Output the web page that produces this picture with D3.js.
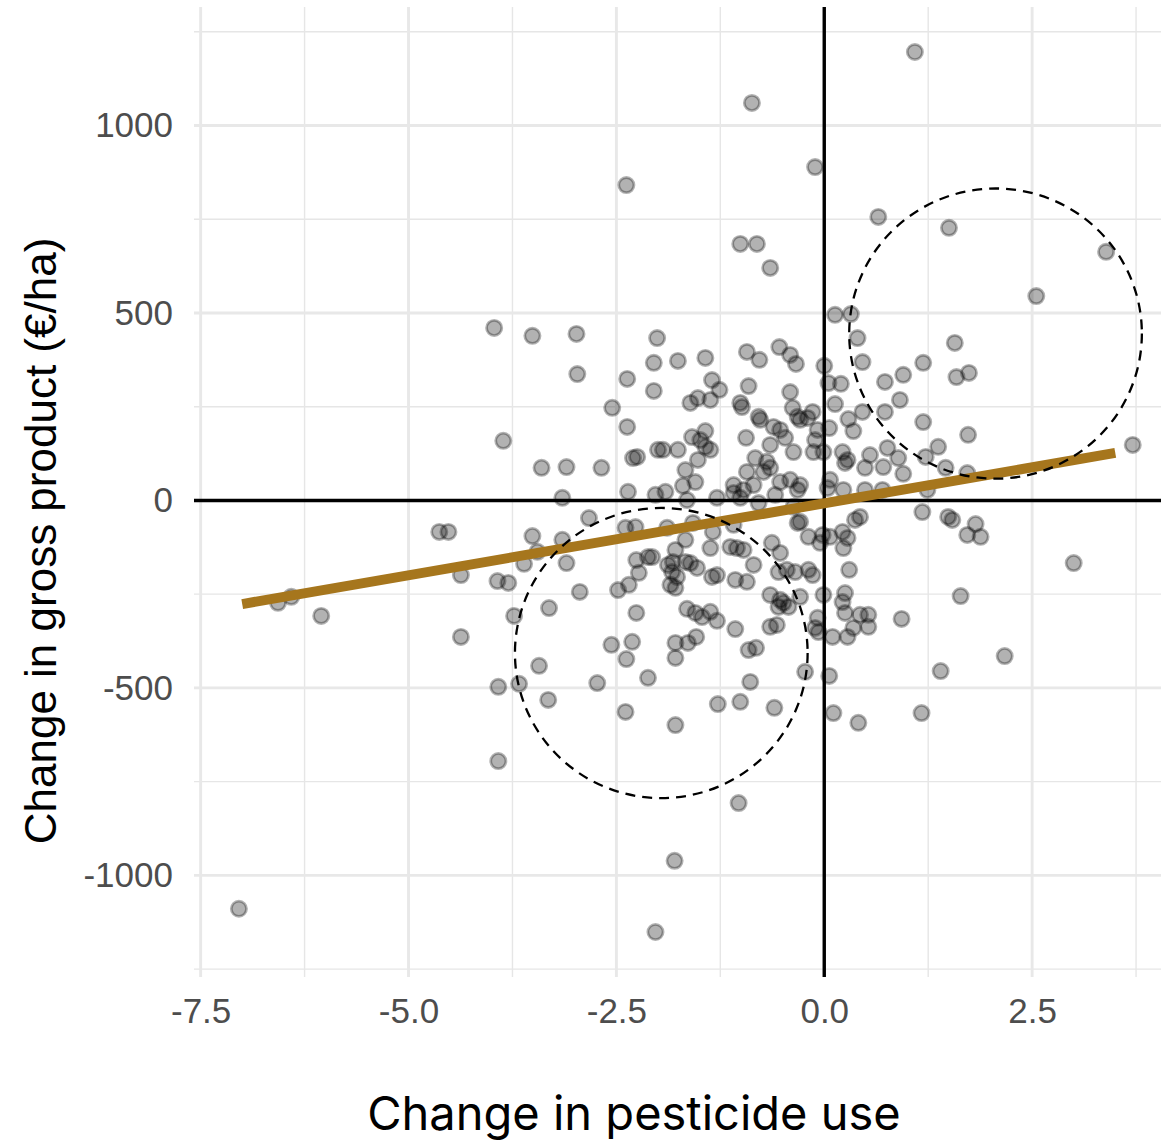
<!DOCTYPE html>
<html>
<head>
<meta charset="utf-8">
<script src="https://cdn.jsdelivr.net/npm/d3@7"></script>
<style>
  html, body { margin: 0; padding: 0; background: #ffffff; }
  svg { display: block; }
</style>
</head>
<body>
<svg id="chart" width="1161" height="1142"></svg>
<script>
// ---------------- data ----------------
const pesticideChange = [
  -7.04,-6.57,-6.41,-6.05,-4.63,-4.52,-4.37,-4.37,-3.97,-3.86,
  -3.93,-3.80,-3.92,-3.92,-3.73,-3.67,-3.51,-3.51,-3.45,-3.43,
  -3.40,-3.32,-3.31,-3.61,-3.10,-3.10,-3.15,-3.15,-2.98,-2.97,
  -2.83,-2.94,-2.73,-2.68,-2.56,-2.55,-2.48,-2.39,-2.38,-2.38,
  -2.37,-2.37,-2.36,-2.35,-2.31,-2.30,-2.25,-2.39,-2.27,-2.26,
  -2.23,-2.26,-2.12,-2.07,-2.12,-2.05,-2.05,-2.03,-2.01,-2.00,
  -1.94,-1.91,-1.89,-1.88,-1.83,-1.82,-1.77,-1.85,-1.79,-1.80,
  -2.03,-1.79,-1.79,-1.79,-1.79,-1.76,-1.76,-1.70,-1.67,-1.67,
  -1.67,-1.65,-1.65,-1.64,-1.61,-1.61,-1.59,-1.58,-1.55,-1.55,
  -1.54,-1.53,-1.52,-1.52,-1.49,-1.47,-1.43,-1.43,-1.43,-1.37,
  -1.37,-1.37,-1.37,-1.35,-1.35,-1.34,-1.29,-1.29,-1.28,-1.26,
  -1.29,-1.13,-1.09,-1.09,-1.09,-1.07,-1.07,-1.05,-1.03,-1.01,
  -1.01,-0.99,-1.01,-1.01,-0.97,-0.97,-0.94,-0.93,-0.93,-0.93,
  -0.91,-0.91,-0.89,-0.87,-0.85,-0.85,-0.83,-0.82,-0.81,-0.79,
  -0.77,-0.79,-0.78,-0.73,-0.69,-0.65,-0.65,-0.65,-0.65,-0.65,
  -0.63,-0.61,-0.60,-0.59,-0.57,-0.55,-0.55,-0.54,-0.53,-0.53,
  -0.53,-0.53,-0.49,-0.47,-0.45,-0.43,-0.41,-0.41,-0.41,-0.38,
  -0.37,-0.37,-0.35,-0.34,-0.32,-0.32,-0.32,-0.29,-0.29,-0.29,
  -0.29,-0.23,-0.20,-0.19,-0.19,-0.14,-0.14,-0.13,-0.11,-0.11,
  -0.11,-0.08,-0.08,-0.07,-0.05,-0.02,-0.01,-0.01,0.00,0.04,
  0.05,0.06,0.06,0.07,0.07,0.10,0.11,0.13,0.13,0.20,
  0.22,0.22,0.22,0.23,0.23,0.25,0.25,0.25,0.28,0.28,
  0.28,0.29,0.30,0.32,0.35,0.35,0.37,0.40,0.41,0.43,
  0.43,0.46,0.46,0.49,0.49,0.53,0.53,0.55,0.65,0.70,
  0.71,0.73,0.73,0.76,0.89,0.91,0.93,0.95,0.95,1.09,
  1.17,1.18,1.19,1.19,1.22,1.24,1.37,1.40,1.46,1.49,
  1.50,1.54,1.57,1.59,1.64,1.72,1.72,1.73,1.74,1.82,
  1.88,2.17,2.55,3.00,3.39,3.71
];
const grossProductChange = [
  -1089,-273,-257,-308,-84,-84,-199,-364,460,159,
  -215,-220,-497,-695,-308,-489,439,-95,-137,-441,
  87,-532,-287,-169,89,-167,-105,7,444,337,
  -47,-244,-487,87,-385,247,-239,-564,-423,841,
  324,196,23,-225,-377,113,116,-73,-71,-159,
  -193,-300,-151,-151,-473,367,292,15,433,135,
  135,23,-73,-172,-191,-164,-204,-225,-233,-961,
  -1151,-380,-420,-599,-132,372,135,39,81,-105,
  -164,1,-289,-380,260,-167,169,-60,49,-300,
  -364,-180,273,108,161,-311,380,185,143,268,
  135,-127,-297,321,-204,-84,-199,-321,-543,295,
  7,-124,41,20,-65,-212,-343,-127,-807,684,
  260,249,7,-537,28,-132,167,396,76,-217,
  305,-399,-484,1060,41,-172,113,-393,684,223,
  215,-7,375,76,103,620,148,87,-252,-337,
  -113,196,-553,15,-332,-191,-284,409,188,49,
  -140,-265,-273,167,-185,-284,388,289,55,247,
  129,-17,-191,364,223,28,-60,215,41,-57,
  -257,-457,220,-97,-185,236,-199,129,889,161,
  -340,188,-313,-351,-113,-92,129,-252,359,33,
  313,193,-468,55,-97,-364,-567,495,257,311,
  129,-84,-271,28,-127,100,-247,-300,108,-100,
  -364,217,-185,497,185,-340,-52,433,-593,-44,
  -305,369,236,28,87,-305,-337,121,756,28,
  89,316,236,140,113,268,-316,335,71,1196,
  -567,-31,367,209,116,28,143,-455,87,-44,
  727,-52,420,329,-255,73,-92,175,340,-63,
  -97,-415,545,-167,663,148
];

// axis ticks
const xMajorTicks = [-7.5, -5, -2.5, 0, 2.5];
const xTickLabels = ["-7.5", "-5.0", "-2.5", "0.0", "2.5"];
const xMinorTicks = [-6.25, -3.75, -1.25, 1.25, 3.75];
const yMajorTicks = [-1000, -500, 0, 500, 1000];
const yTickLabels = ["-1000", "-500", "0", "500", "1000"];
const yMinorTicks = [-1250, -750, -250, 250, 750, 1250];

// fitted trend line (intercept, slope, x range)
const fitIntercept = -7.6;
const fitSlope = 38.4;
const fitRange = [-7.0, 3.5];

// highlighted regions (centre x, centre y, radius x, radius y in data units)
const regionCx = [-1.96, 2.06];
const regionCy = [-407, 445];
const regionRx = [1.76, 1.76];
const regionRy = [387, 387];

const xTitle = "Change in pesticide use";
const yTitle = "Change in gross product (€/ha)";

// ---------------- layout ----------------
const panel = { left: 194, right: 1161, top: 7, bottom: 977 };
const xDomain = [-7.58, 4.05];
const yDomain = [-1271, 1316];

const svg = d3.select("#chart");
svg.append("rect").attr("width", 1161).attr("height", 1142).attr("fill", "#ffffff");

const x = d3.scaleLinear().domain(xDomain).range([panel.left, panel.right]);
const y = d3.scaleLinear().domain(yDomain).range([panel.bottom, panel.top]);

const grid = svg.append("g");
// minor grid
grid.selectAll("line.xminor").data(xMinorTicks).join("line")
  .attr("x1", d => x(d)).attr("x2", d => x(d))
  .attr("y1", panel.top).attr("y2", panel.bottom)
  .attr("stroke", "#e6e6e6").attr("stroke-width", 1.4);
grid.selectAll("line.yminor").data(yMinorTicks).join("line")
  .attr("y1", d => y(d)).attr("y2", d => y(d))
  .attr("x1", panel.left).attr("x2", panel.right)
  .attr("stroke", "#e6e6e6").attr("stroke-width", 1.4);
// major grid
grid.selectAll("line.xmajor").data(xMajorTicks).join("line")
  .attr("x1", d => x(d)).attr("x2", d => x(d))
  .attr("y1", panel.top).attr("y2", panel.bottom)
  .attr("stroke", "#e8e8e8").attr("stroke-width", 2.9);
grid.selectAll("line.ymajor").data(yMajorTicks).join("line")
  .attr("y1", d => y(d)).attr("y2", d => y(d))
  .attr("x1", panel.left).attr("x2", panel.right)
  .attr("stroke", "#e8e8e8").attr("stroke-width", 2.9);

// zero reference lines
svg.append("line")
  .attr("x1", panel.left).attr("x2", panel.right)
  .attr("y1", y(0)).attr("y2", y(0))
  .attr("stroke", "#000").attr("stroke-width", 3.4);
svg.append("line")
  .attr("x1", x(0)).attr("x2", x(0))
  .attr("y1", panel.top).attr("y2", panel.bottom)
  .attr("stroke", "#000").attr("stroke-width", 3.4);

// points
const pts = pesticideChange.map((v, i) => ({ x: v, y: grossProductChange[i] }));
svg.append("g").selectAll("circle").data(pts).join("circle")
  .attr("cx", d => x(d.x)).attr("cy", d => y(d.y))
  .attr("r", 7.6)
  .attr("fill", "#000").attr("fill-opacity", 0.3)
  .attr("stroke", "#000").attr("stroke-opacity", 0.3).attr("stroke-width", 2.8);

// trend line
svg.append("line")
  .attr("x1", x(fitRange[0])).attr("y1", y(fitIntercept + fitSlope * fitRange[0]))
  .attr("x2", x(fitRange[1])).attr("y2", y(fitIntercept + fitSlope * fitRange[1]))
  .attr("stroke", "#a6761d").attr("stroke-width", 10);

// dashed highlight regions
svg.append("g").selectAll("ellipse").data(regionCx.map((c, i) => i)).join("ellipse")
  .attr("cx", i => x(regionCx[i])).attr("cy", i => y(regionCy[i]))
  .attr("rx", i => x(regionCx[i] + regionRx[i]) - x(regionCx[i]))
  .attr("ry", i => y(regionCy[i]) - y(regionCy[i] + regionRy[i]))
  .attr("fill", "none").attr("stroke", "#000").attr("stroke-width", 2.3)
  .attr("stroke-dasharray", "10,7");

// axes (labels only)
const yAxis = d3.axisLeft(y).tickValues(yMajorTicks)
  .tickFormat((d, i) => yTickLabels[i]).tickSize(0).tickPadding(21);
const gy = svg.append("g").attr("transform", `translate(${panel.left},0)`).call(yAxis);
const xAxis = d3.axisBottom(x).tickValues(xMajorTicks)
  .tickFormat((d, i) => xTickLabels[i]).tickSize(0).tickPadding(21);
const gx = svg.append("g").attr("transform", `translate(0,${panel.bottom})`).call(xAxis);
[gx, gy].forEach(g => {
  g.select(".domain").remove();
  g.selectAll("text")
    .attr("fill", "#4d4d4d")
    .style("font-family", "'Liberation Sans', Arial, sans-serif")
    .style("font-size", "35px");
});

// axis titles
svg.append("text")
  .attr("x", 634).attr("y", 1130)
  .attr("text-anchor", "middle")
  .style("font-family", "Inter, 'Noto Sans', sans-serif")
  .style("font-size", "47px")
  .attr("fill", "#000")
  .text(xTitle);
svg.append("text")
  .attr("transform", "translate(56,541) rotate(-90)")
  .attr("text-anchor", "middle")
  .style("font-family", "'Liberation Sans', Arial, sans-serif")
  .style("font-size", "44px")
  .attr("fill", "#000")
  .text(yTitle);
</script>
</body>
</html>
